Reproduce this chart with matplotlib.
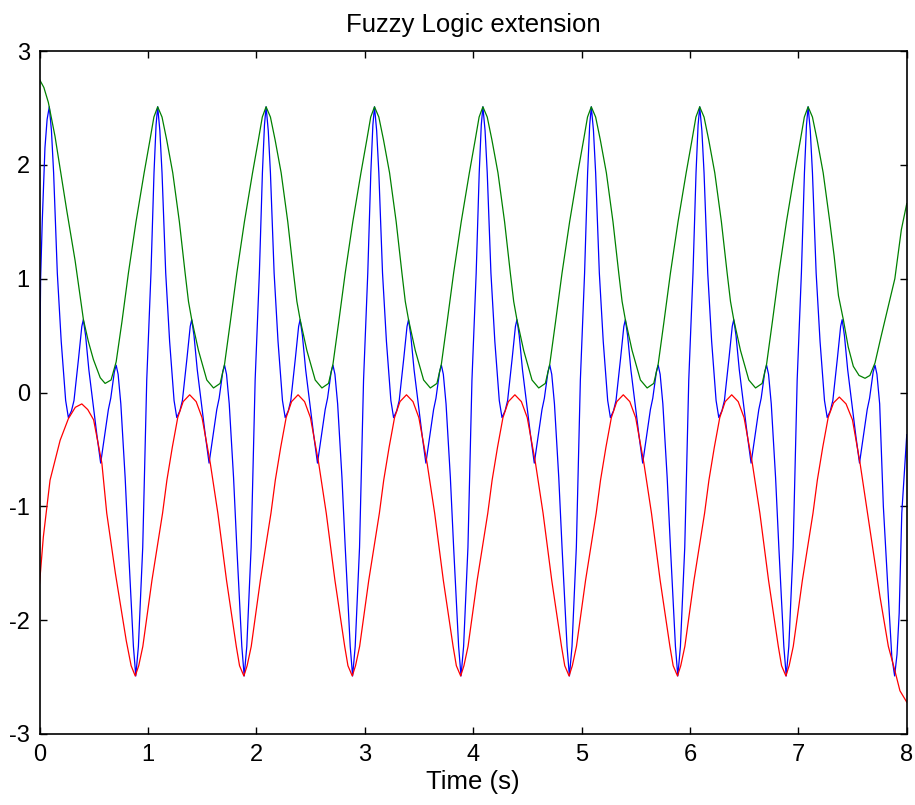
import matplotlib
matplotlib.use("Agg")
import matplotlib.pyplot as plt
from matplotlib import font_manager

# ---- data (time in s) ----
blue_t = [
    0.0, 0.01, 0.025, 0.05, 0.07, 0.09, 0.11, 0.13, 0.164, 0.20, 0.241, 0.266, 0.295, 0.318, 0.36, 0.39, 0.404, 0.425,
    0.455, 0.49, 0.53, 0.564, 0.60, 0.635, 0.657, 0.69, 0.707, 0.725, 0.75, 0.79, 0.82, 0.866, 0.888, 0.912, 0.952, 0.989,
    1.028, 1.056, 1.075, 1.09, 1.11, 1.13, 1.164, 1.20, 1.241, 1.266, 1.295, 1.318, 1.36, 1.39, 1.404, 1.425,
    1.455, 1.49, 1.53, 1.564, 1.60, 1.635, 1.657, 1.69, 1.707, 1.725, 1.75, 1.79, 1.82, 1.866, 1.888, 1.912, 1.952, 1.989,
    2.028, 2.056, 2.075, 2.09, 2.11, 2.13, 2.164, 2.20, 2.241, 2.266, 2.295, 2.318, 2.36, 2.39, 2.404, 2.425,
    2.455, 2.49, 2.53, 2.564, 2.60, 2.635, 2.657, 2.69, 2.707, 2.725, 2.75, 2.79, 2.82, 2.866, 2.888, 2.912, 2.952, 2.989,
    3.028, 3.056, 3.075, 3.09, 3.11, 3.13, 3.164, 3.20, 3.241, 3.266, 3.295, 3.318, 3.36, 3.39, 3.404, 3.425,
    3.455, 3.49, 3.53, 3.564, 3.60, 3.635, 3.657, 3.69, 3.707, 3.725, 3.75, 3.79, 3.82, 3.866, 3.888, 3.912, 3.952, 3.989,
    4.028, 4.056, 4.075, 4.09, 4.11, 4.13, 4.164, 4.20, 4.241, 4.266, 4.295, 4.318, 4.36, 4.39, 4.404, 4.425,
    4.455, 4.49, 4.53, 4.564, 4.60, 4.635, 4.657, 4.69, 4.707, 4.725, 4.75, 4.79, 4.82, 4.866, 4.888, 4.912, 4.952, 4.989,
    5.028, 5.056, 5.075, 5.09, 5.11, 5.13, 5.164, 5.20, 5.241, 5.266, 5.295, 5.318, 5.36, 5.39, 5.404, 5.425,
    5.455, 5.49, 5.53, 5.564, 5.60, 5.635, 5.657, 5.69, 5.707, 5.725, 5.75, 5.79, 5.82, 5.866, 5.888, 5.912, 5.952, 5.989,
    6.028, 6.056, 6.075, 6.09, 6.11, 6.13, 6.164, 6.20, 6.241, 6.266, 6.295, 6.318, 6.36, 6.39, 6.404, 6.425,
    6.455, 6.49, 6.53, 6.564, 6.60, 6.635, 6.657, 6.69, 6.707, 6.725, 6.75, 6.79, 6.82, 6.866, 6.888, 6.912, 6.952, 6.989,
    7.028, 7.056, 7.075, 7.09, 7.11, 7.13, 7.164, 7.20, 7.241, 7.266, 7.295, 7.318, 7.36, 7.39, 7.404, 7.425,
    7.455, 7.49, 7.53, 7.564, 7.60, 7.635, 7.657, 7.69, 7.707, 7.725, 7.75, 7.784, 7.83, 7.862, 7.888, 7.91, 7.93, 7.954, 8.0,
]
blue_y = [
    0.0, 1.0, 1.5, 2.15, 2.40, 2.51, 2.30, 1.93, 1.05, 0.45, -0.07, -0.22, -0.16, -0.07, 0.30, 0.58, 0.64, 0.50,
    0.20, -0.07, -0.38, -0.62, -0.38, -0.15, -0.05, 0.18, 0.24, 0.16, -0.10, -0.75, -1.36, -2.23, -2.49, -2.23, -1.36, 0.11,
    1.05, 1.93, 2.35, 2.51, 2.30, 1.93, 1.05, 0.45, -0.07, -0.22, -0.16, -0.07, 0.30, 0.58, 0.64, 0.50,
    0.20, -0.07, -0.38, -0.62, -0.38, -0.15, -0.05, 0.18, 0.24, 0.16, -0.10, -0.75, -1.36, -2.23, -2.49, -2.23, -1.36, 0.11,
    1.05, 1.93, 2.35, 2.51, 2.30, 1.93, 1.05, 0.45, -0.07, -0.22, -0.16, -0.07, 0.30, 0.58, 0.64, 0.50,
    0.20, -0.07, -0.38, -0.62, -0.38, -0.15, -0.05, 0.18, 0.24, 0.16, -0.10, -0.75, -1.36, -2.23, -2.49, -2.23, -1.36, 0.11,
    1.05, 1.93, 2.35, 2.51, 2.30, 1.93, 1.05, 0.45, -0.07, -0.22, -0.16, -0.07, 0.30, 0.58, 0.64, 0.50,
    0.20, -0.07, -0.38, -0.62, -0.38, -0.15, -0.05, 0.18, 0.24, 0.16, -0.10, -0.75, -1.36, -2.23, -2.49, -2.23, -1.36, 0.11,
    1.05, 1.93, 2.35, 2.51, 2.30, 1.93, 1.05, 0.45, -0.07, -0.22, -0.16, -0.07, 0.30, 0.58, 0.64, 0.50,
    0.20, -0.07, -0.38, -0.62, -0.38, -0.15, -0.05, 0.18, 0.24, 0.16, -0.10, -0.75, -1.36, -2.23, -2.49, -2.23, -1.36, 0.11,
    1.05, 1.93, 2.35, 2.51, 2.30, 1.93, 1.05, 0.45, -0.07, -0.22, -0.16, -0.07, 0.30, 0.58, 0.64, 0.50,
    0.20, -0.07, -0.38, -0.62, -0.38, -0.15, -0.05, 0.18, 0.24, 0.16, -0.10, -0.75, -1.36, -2.23, -2.49, -2.23, -1.36, 0.11,
    1.05, 1.93, 2.35, 2.51, 2.30, 1.93, 1.05, 0.45, -0.07, -0.22, -0.16, -0.07, 0.30, 0.58, 0.64, 0.50,
    0.20, -0.07, -0.38, -0.62, -0.38, -0.15, -0.05, 0.18, 0.24, 0.16, -0.10, -0.75, -1.36, -2.23, -2.49, -2.23, -1.36, 0.11,
    1.05, 1.93, 2.35, 2.51, 2.30, 1.93, 1.05, 0.45, -0.07, -0.22, -0.16, -0.07, 0.30, 0.58, 0.64, 0.50,
    0.20, -0.07, -0.38, -0.62, -0.38, -0.15, -0.05, 0.18, 0.24, 0.16, -0.10, -1.00, -1.79, -2.32, -2.49, -2.30, -1.94, -1.06, -0.37,
]

green_t = [
    0.0, 0.04, 0.081, 0.143, 0.251, 0.328, 0.405, 0.45, 0.497, 0.56, 0.605, 0.66, 0.707, 0.76, 0.82, 0.89, 0.965,
    1.019, 1.055, 1.09, 1.13, 1.173, 1.229, 1.29, 1.343, 1.374, 1.404, 1.466, 1.543, 1.605, 1.666, 1.707, 1.76, 1.82, 1.89, 1.965,
    2.019, 2.055, 2.09, 2.13, 2.173, 2.229, 2.29, 2.343, 2.374, 2.404, 2.466, 2.543, 2.605, 2.666, 2.707, 2.76, 2.82, 2.89, 2.965,
    3.019, 3.055, 3.09, 3.13, 3.173, 3.229, 3.29, 3.343, 3.374, 3.404, 3.466, 3.543, 3.605, 3.666, 3.707, 3.76, 3.82, 3.89, 3.965,
    4.019, 4.055, 4.09, 4.13, 4.173, 4.229, 4.29, 4.343, 4.374, 4.404, 4.466, 4.543, 4.605, 4.666, 4.707, 4.76, 4.82, 4.89, 4.965,
    5.019, 5.055, 5.09, 5.13, 5.173, 5.229, 5.29, 5.343, 5.374, 5.404, 5.466, 5.543, 5.605, 5.666, 5.707, 5.76, 5.82, 5.89, 5.965,
    6.019, 6.055, 6.09, 6.13, 6.173, 6.229, 6.29, 6.343, 6.374, 6.404, 6.466, 6.543, 6.605, 6.666, 6.707, 6.76, 6.82, 6.89, 6.965,
    7.019, 7.055, 7.09, 7.13, 7.173, 7.229, 7.29, 7.33, 7.37, 7.415, 7.46, 7.507, 7.56, 7.615, 7.66, 7.707, 7.76, 7.815, 7.89, 7.95, 8.0,
]
green_y = [
    2.75, 2.68, 2.55, 2.25, 1.60, 1.16, 0.64, 0.45, 0.29, 0.13, 0.08, 0.11, 0.27, 0.62, 1.05, 1.50, 1.93,
    2.22, 2.42, 2.51, 2.42, 2.22, 1.93, 1.50, 1.05, 0.80, 0.64, 0.37, 0.11, 0.04, 0.08, 0.25, 0.62, 1.05, 1.50, 1.93,
    2.22, 2.42, 2.51, 2.42, 2.22, 1.93, 1.50, 1.05, 0.80, 0.64, 0.37, 0.11, 0.04, 0.08, 0.25, 0.62, 1.05, 1.50, 1.93,
    2.22, 2.42, 2.51, 2.42, 2.22, 1.93, 1.50, 1.05, 0.80, 0.64, 0.37, 0.11, 0.04, 0.08, 0.25, 0.62, 1.05, 1.50, 1.93,
    2.22, 2.42, 2.51, 2.42, 2.22, 1.93, 1.50, 1.05, 0.80, 0.64, 0.37, 0.11, 0.04, 0.08, 0.25, 0.62, 1.05, 1.50, 1.93,
    2.22, 2.42, 2.51, 2.42, 2.22, 1.93, 1.50, 1.05, 0.80, 0.64, 0.37, 0.11, 0.04, 0.08, 0.25, 0.62, 1.05, 1.50, 1.93,
    2.22, 2.42, 2.51, 2.42, 2.22, 1.93, 1.50, 1.05, 0.80, 0.64, 0.37, 0.11, 0.04, 0.08, 0.25, 0.62, 1.05, 1.50, 1.93,
    2.22, 2.42, 2.51, 2.42, 2.22, 1.93, 1.50, 1.20, 0.85, 0.64, 0.40, 0.23, 0.15, 0.125, 0.15, 0.26, 0.48, 0.70, 1.00, 1.43, 1.66,
]

red_t = [
    0.0, 0.035, 0.097, 0.19, 0.266, 0.33, 0.39, 0.445, 0.499, 0.575, 0.62, 0.70, 0.80, 0.845, 0.883, 0.915, 0.953,
    1.037, 1.085, 1.135, 1.175, 1.225, 1.275, 1.325, 1.385, 1.445, 1.499, 1.575, 1.645, 1.725, 1.815, 1.845, 1.885, 1.915, 1.953,
    2.037, 2.085, 2.135, 2.175, 2.225, 2.275, 2.325, 2.385, 2.445, 2.499, 2.575, 2.645, 2.725, 2.815, 2.845, 2.885, 2.915, 2.953,
    3.037, 3.085, 3.135, 3.175, 3.225, 3.275, 3.325, 3.385, 3.445, 3.499, 3.575, 3.645, 3.725, 3.815, 3.845, 3.885, 3.915, 3.953,
    4.037, 4.085, 4.135, 4.175, 4.225, 4.275, 4.325, 4.385, 4.445, 4.499, 4.575, 4.645, 4.725, 4.815, 4.845, 4.885, 4.915, 4.953,
    5.037, 5.085, 5.135, 5.175, 5.225, 5.275, 5.325, 5.385, 5.445, 5.499, 5.575, 5.645, 5.725, 5.815, 5.845, 5.885, 5.915, 5.953,
    6.037, 6.085, 6.135, 6.175, 6.225, 6.275, 6.325, 6.385, 6.445, 6.499, 6.575, 6.645, 6.725, 6.815, 6.845, 6.885, 6.915, 6.953,
    7.037, 7.085, 7.135, 7.175, 7.225, 7.275, 7.325, 7.378, 7.44, 7.499, 7.569, 7.661, 7.754, 7.83, 7.892, 7.937, 8.0,
]
red_y = [
    -1.68, -1.27, -0.77, -0.42, -0.23, -0.13, -0.10, -0.15, -0.24, -0.62, -1.06, -1.59, -2.18, -2.40, -2.49, -2.40, -2.23,
    -1.65, -1.36, -1.06, -0.77, -0.48, -0.22, -0.08, -0.02, -0.08, -0.22, -0.62, -1.06, -1.65, -2.23, -2.40, -2.49, -2.40, -2.23,
    -1.65, -1.36, -1.06, -0.77, -0.48, -0.22, -0.08, -0.02, -0.08, -0.22, -0.62, -1.06, -1.65, -2.23, -2.40, -2.49, -2.40, -2.23,
    -1.65, -1.36, -1.06, -0.77, -0.48, -0.22, -0.08, -0.02, -0.08, -0.22, -0.62, -1.06, -1.65, -2.23, -2.40, -2.49, -2.40, -2.23,
    -1.65, -1.36, -1.06, -0.77, -0.48, -0.22, -0.08, -0.02, -0.08, -0.22, -0.62, -1.06, -1.65, -2.23, -2.40, -2.49, -2.40, -2.23,
    -1.65, -1.36, -1.06, -0.77, -0.48, -0.22, -0.08, -0.02, -0.08, -0.22, -0.62, -1.06, -1.65, -2.23, -2.40, -2.49, -2.40, -2.23,
    -1.65, -1.36, -1.06, -0.77, -0.48, -0.22, -0.08, -0.02, -0.08, -0.22, -0.62, -1.06, -1.65, -2.23, -2.40, -2.49, -2.40, -2.23,
    -1.65, -1.36, -1.06, -0.77, -0.48, -0.22, -0.09, -0.04, -0.10, -0.24, -0.62, -1.21, -1.80, -2.23, -2.45, -2.62, -2.72,
]

x_ticks = [0, 1, 2, 3, 4, 5, 6, 7, 8]
y_ticks = [-3, -2, -1, 0, 1, 2, 3]

# pick a narrow sans font if one is there (the picture's text is tall and narrow)
names = set(f.name for f in font_manager.fontManager.ttflist)
font = 'Liberation Sans'
for cand in ['Liberation Sans Narrow', 'DejaVu Sans Condensed']:
    if cand in names:
        font = cand
        break
plt.rcParams['font.family'] = [font, 'DejaVu Sans']
plt.rcParams['axes.unicode_minus'] = False


def build_chart():
    fig = plt.figure(figsize=(9.15, 8.05), dpi=100)
    ax = fig.add_axes([0.0432, 0.0882, 0.9478, 0.8484])

    ax.plot(blue_t, blue_y, color='#0000ff', lw=0.9)
    ax.plot(green_t, green_y, color='#008000', lw=0.9)
    ax.plot(red_t, red_y, color='#ff0000', lw=0.9)

    ax.set_xlim(0, 8)
    ax.set_ylim(-3, 3)
    ax.set_xticks(x_ticks)
    ax.set_yticks(y_ticks)
    ax.tick_params(direction='in', length=5, width=1, top=True, right=True,
                   labelsize=17, pad=7, colors='black')
    for s in ax.spines.values():
        s.set_linewidth(1.2)

    ax.set_title('Fuzzy Logic extension', fontsize=18.5, pad=14)
    ax.set_xlabel('Time (s)', fontsize=18.5, labelpad=3)

    fig.savefig('out.png', dpi=100)


if __name__ == "__main__":
    build_chart()
